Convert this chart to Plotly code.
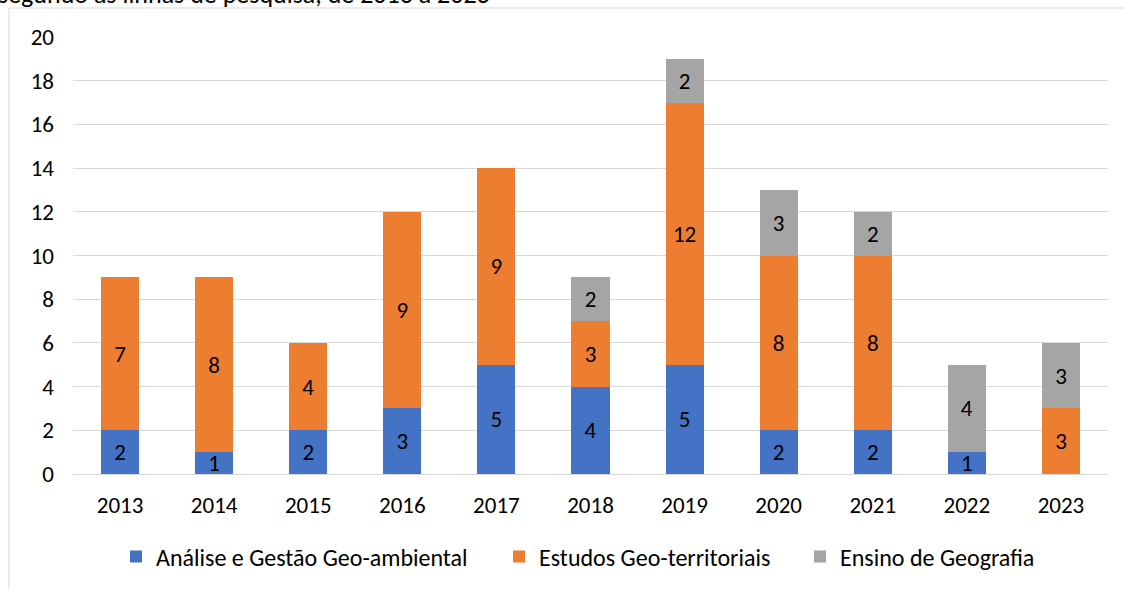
import plotly.graph_objects as go

years = ["2013", "2014", "2015", "2016", "2017", "2018", "2019", "2020", "2021", "2022", "2023"]
analise = [2, 1, 2, 3, 5, 4, 5, 2, 2, 1, 0]
estudos = [7, 8, 4, 9, 9, 3, 12, 8, 8, 0, 3]
ensino = [0, 0, 0, 0, 0, 2, 2, 3, 2, 4, 3]

series = [
    ("Análise e Gestão Geo-ambiental", analise, "#4472C4", "legend"),
    ("Estudos Geo-territoriais", estudos, "#ED7D31", "legend2"),
    ("Ensino de Geografia", ensino, "#A5A5A5", "legend3"),
]

FONT = "Carlito, Lato, 'Open Sans', sans-serif"
FS = 23

fig = go.Figure()
for name, vals, col, lg in series:
    fig.add_trace(go.Bar(
        x=years, y=vals, name=name, marker=dict(color=col, line=dict(width=0)),
        text=[str(v) if v > 0 else "" for v in vals],
        textposition="inside", insidetextanchor="middle", textangle=0,
        constraintext="none",
        textfont=dict(color="black", size=FS, family=FONT),
        cliponaxis=False, legend=lg,
    ))

W, H = 1124, 589
L, R, T, B = 73, 16, 37, 115
pw, ph = W - L - R, H - T - B

def px(x):
    return (x - L) / pw

def py(y):
    return (H - B - y) / ph

def leg(xpix):
    return dict(orientation="h", x=px(xpix), xanchor="left", y=py(557), yanchor="middle",
                font=dict(size=24), itemwidth=30, bgcolor="rgba(0,0,0,0)")

fig.update_layout(
    width=W, height=H, barmode="stack", bargap=0.595,
    margin=dict(l=L, r=R, t=T, b=B, autoexpand=False),
    paper_bgcolor="white", plot_bgcolor="white",
    font=dict(family=FONT, size=FS, color="black"),
    uniformtext=dict(minsize=8, mode="show"),
    xaxis=dict(showgrid=False, showline=False, ticks="", tickfont=dict(size=FS), ticklabelstandoff=15),
    yaxis=dict(range=[0, 20], dtick=2, showgrid=True, gridcolor="#D9D9D9", gridwidth=1,
               zeroline=True, zerolinecolor="#D9D9D9", zerolinewidth=1,
               showline=False, ticks="", tickfont=dict(size=FS), ticklabelstandoff=18),
    legend=leg(132 - 16),
    legend2=leg(515 - 16),
    legend3=leg(816 - 16),
    showlegend=True,
    shapes=[
        dict(type="line", xref="paper", yref="paper", x0=px(9), x1=px(1124), y0=py(8), y1=py(8),
             line=dict(color="#D9D9D9", width=1)),
        dict(type="line", xref="paper", yref="paper", x0=px(9), x1=px(9), y0=py(8), y1=py(589),
             line=dict(color="#D9D9D9", width=1)),
    ],
    annotations=[
        dict(text="segundo as linhas de pesquisa, de 2013 a 2023", xref="paper", yref="paper",
             x=px(-4), y=py(-6), xanchor="left", yanchor="middle", showarrow=False,
             font=dict(size=26, color="black", family=FONT)),
    ],
)

fig.write_html("out.html", config={"displayModeBar": False},
               post_script="document.body.style.margin='0px';")
